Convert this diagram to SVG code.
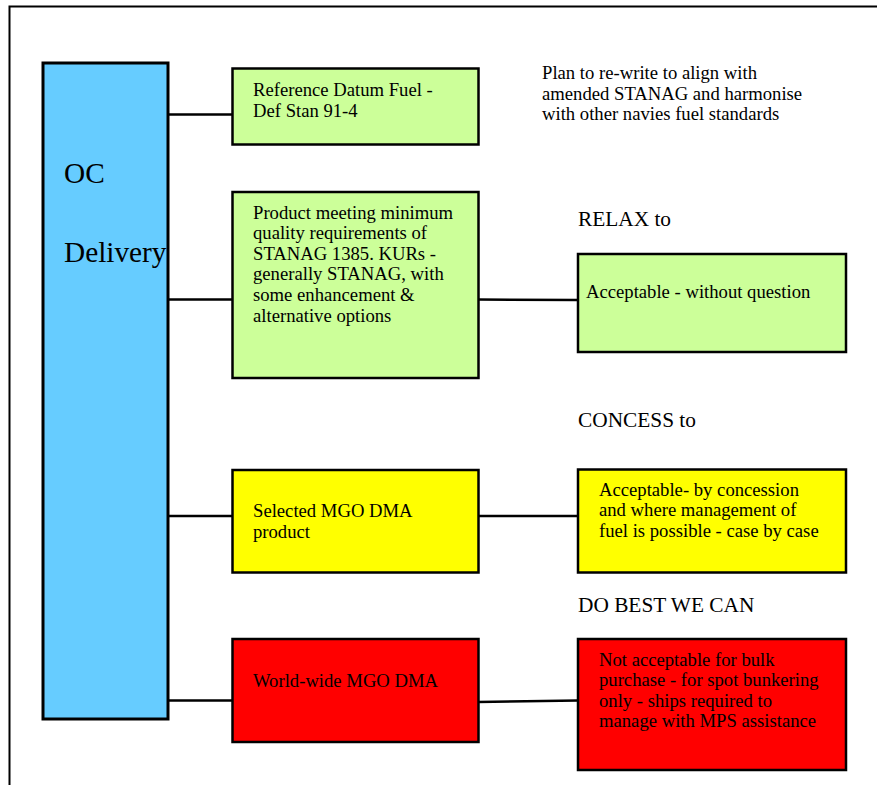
<svg xmlns="http://www.w3.org/2000/svg" width="877" height="785" viewBox="0 0 877 785">
<style>
.box{stroke:#000;stroke-width:2.5}
.t{font-family:"Liberation Serif","Times New Roman",serif;font-size:18.67px;fill:#000}
.h{font-family:"Liberation Serif","Times New Roman",serif;font-size:21.33px;fill:#000}
.big{font-family:"Liberation Serif","Times New Roman",serif;font-size:29.3px;fill:#000}
.c{stroke:#000;stroke-width:2.5;fill:none}
</style>
<rect width="877" height="785" fill="#fff"/>
<path d="M9.5 785 V6.5 H877" fill="none" stroke="#000" stroke-width="2"/>
<g id="connectors">
<line class="c" x1="166" y1="114.5" x2="232" y2="114.5"/>
<line class="c" x1="166" y1="299.5" x2="232" y2="299.5"/>
<line class="c" x1="478" y1="299.5" x2="578" y2="300"/>
<line class="c" x1="166" y1="516" x2="232" y2="516"/>
<line class="c" x1="478" y1="516" x2="578" y2="516"/>
<line class="c" x1="166" y1="700.5" x2="232" y2="700.5"/>
<line class="c" x1="478" y1="702" x2="578" y2="700.5"/>
</g>
<g id="oc-delivery">
<rect x="43" y="63" width="125" height="656" fill="#66CCFF" stroke="#000" stroke-width="3"/>
<text class="big" x="64" y="183">OC</text>
<text class="big" x="64" y="262">Delivery</text>
</g>
<g id="ref-datum">
<rect class="box" x="232.5" y="68.5" width="246" height="76" fill="#CCFF99"/>
<text class="t" x="253" y="96">Reference Datum Fuel -</text>
<text class="t" x="253" y="117">Def Stan 91-4</text>
</g>
<g id="plan-note">
<text class="t" x="542" y="78.5">Plan to re-write to align with</text>
<text class="t" x="542" y="99.5">amended STANAG and harmonise</text>
<text class="t" x="542" y="120">with other navies fuel standards</text>
</g>
<g id="product-min">
<rect class="box" x="232.5" y="192" width="246" height="186" fill="#CCFF99"/>
<text class="t" x="253" y="218.5">Product meeting minimum</text>
<text class="t" x="253" y="239.3">quality requirements of</text>
<text class="t" x="253" y="259.5">STANAG 1385. KURs -</text>
<text class="t" x="253" y="280.3">generally STANAG, with</text>
<text class="t" x="253" y="301">some enhancement &amp;</text>
<text class="t" x="253" y="321.7">alternative options</text>
</g>
<g id="relax-label"><text class="h" x="578" y="225.5">RELAX to</text></g>
<g id="acceptable">
<rect class="box" x="578" y="254" width="268" height="98" fill="#CCFF99"/>
<text class="t" x="586" y="298">Acceptable - without question</text>
</g>
<g id="concess-label"><text class="h" x="578" y="427">CONCESS to</text></g>
<g id="selected-mgo">
<rect class="box" x="232.5" y="470" width="246" height="102.5" fill="#FFFF00"/>
<text class="t" x="253" y="517">Selected MGO DMA</text>
<text class="t" x="253" y="538">product</text>
</g>
<g id="acceptable-concession">
<rect class="box" x="578" y="469.5" width="268" height="103" fill="#FFFF00"/>
<text class="t" x="599" y="495.5">Acceptable- by concession</text>
<text class="t" x="599" y="516.3">and where management of</text>
<text class="t" x="599" y="537">fuel is possible - case by case</text>
</g>
<g id="dobest-label"><text class="h" x="578" y="612">DO BEST WE CAN</text></g>
<g id="world-wide">
<rect class="box" x="232.5" y="639" width="246" height="103" fill="#FF0000"/>
<text class="t" x="253" y="687">World-wide MGO DMA</text>
</g>
<g id="not-acceptable">
<rect class="box" x="578" y="639" width="268" height="131" fill="#FF0000"/>
<text class="t" x="599" y="665.5">Not acceptable for bulk</text>
<text class="t" x="599" y="686">purchase - for spot bunkering</text>
<text class="t" x="599" y="706.5">only - ships required to</text>
<text class="t" x="599" y="727.3">manage with MPS assistance</text>
</g>
</svg>
